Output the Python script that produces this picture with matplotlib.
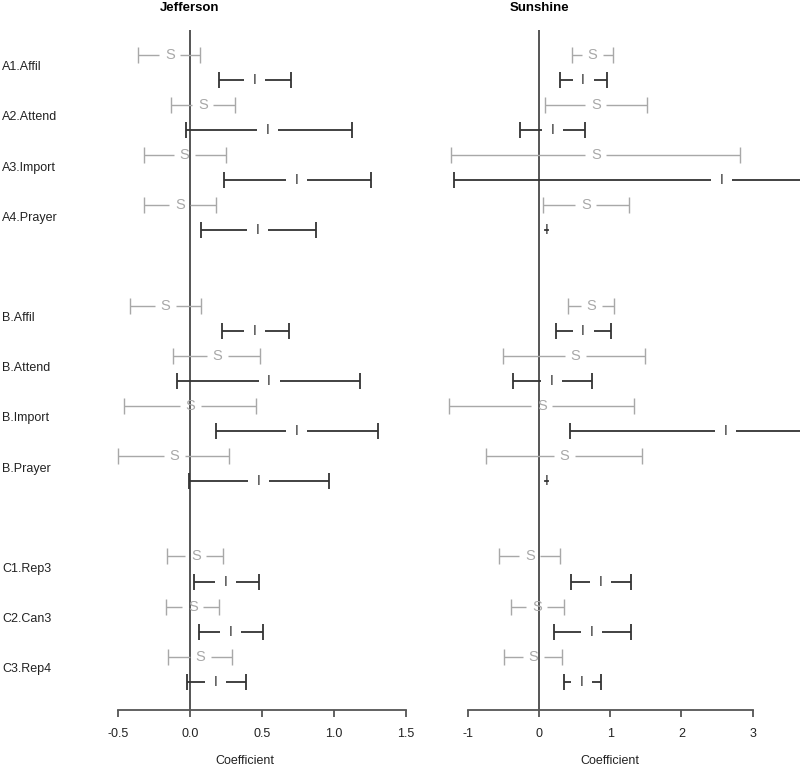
import matplotlib
matplotlib.use("Agg")
import matplotlib.pyplot as plt
from matplotlib.transforms import blended_transform_factory

plt.rcParams['font.family'] = ['Liberation Sans', 'DejaVu Sans']
plt.rcParams['axes.unicode_minus'] = False

# row labels and their vertical slots (blank slots between groups)
labels = ['A1.Affil', 'A2.Attend', 'A3.Import', 'A4.Prayer',
          'B.Affil', 'B.Attend', 'B.Import', 'B.Prayer',
          'C1.Rep3', 'C2.Can3', 'C3.Rep4']
rows = [0, 1, 2, 3, 5, 6, 7, 8, 10, 11, 12]

# Jefferson: "S" estimates (gray) and "I" estimates (black)
jef_s_est = [-0.14, 0.09, -0.04, -0.07, -0.17, 0.19, 0.00, -0.11, 0.04, 0.02, 0.07]
jef_s_lo = [-0.36, -0.13, -0.32, -0.32, -0.42, -0.12, -0.46, -0.50, -0.16, -0.17, -0.15]
jef_s_hi = [0.07, 0.31, 0.25, 0.18, 0.08, 0.49, 0.46, 0.27, 0.23, 0.20, 0.29]
jef_i_est = [0.45, 0.54, 0.74, 0.47, 0.45, 0.55, 0.74, 0.48, 0.25, 0.28, 0.18]
jef_i_lo = [0.20, -0.03, 0.24, 0.08, 0.22, -0.09, 0.18, -0.005, 0.03, 0.06, -0.02]
jef_i_hi = [0.70, 1.13, 1.26, 0.88, 0.69, 1.18, 1.31, 0.97, 0.48, 0.51, 0.39]

# Sunshine
sun_s_est = [0.75, 0.80, 0.80, 0.66, 0.74, 0.51, 0.04, 0.36, -0.13, -0.03, -0.08]
sun_s_lo = [0.46, 0.08, -1.24, 0.06, 0.41, -0.50, -1.27, -0.74, -0.56, -0.39, -0.49]
sun_s_hi = [1.04, 1.52, 2.82, 1.26, 1.05, 1.49, 1.33, 1.44, 0.30, 0.35, 0.33]
sun_i_est = [0.62, 0.19, 2.57, 0.11, 0.62, 0.18, 2.62, 0.11, 0.86, 0.74, 0.60]
sun_i_lo = [0.29, -0.27, -1.19, 0.09, 0.24, -0.37, 0.44, 0.09, 0.45, 0.21, 0.35]
sun_i_hi = [0.96, 0.65, 6.33, 0.13, 1.01, 0.74, 4.80, 0.13, 1.29, 1.29, 0.87]

W, H = 800, 769
GRAY = '#a8a8a8'
DARK = '#333333'

fig = plt.figure(figsize=(W / 100, H / 100), dpi=100)


def make_panel(x0, x1, xlim, ticks, ticklabels, title, label_x):
    ax = fig.add_axes([x0 / W, 1 - 710 / H, (x1 - x0) / W, 680 / H])
    ax.set_xlim(xlim)
    ax.set_ylim(12.81, -0.74)
    for s in ['top', 'right', 'left']:
        ax.spines[s].set_visible(False)
    ax.spines['bottom'].set_bounds(ticks[0], ticks[-1])
    ax.spines['bottom'].set_color('#555555')
    ax.spines['bottom'].set_linewidth(1.3)
    ax.set_yticks([])
    ax.set_xticks(ticks)
    ax.set_xticklabels(ticklabels)
    ax.tick_params(axis='x', direction='out', length=5, width=1.3,
                   color='#555555', labelsize=9, labelcolor='#222222', pad=8)
    ax.set_xlabel('Coefficient', fontsize=9, color='#222222', labelpad=11)
    ax.xaxis.label.set_x(label_x)
    ax.axvline(0, color='#555555', lw=1.4, zorder=1)
    tr = blended_transform_factory(ax.transData, fig.transFigure)
    ax.text(0, 1 - 8 / H, title, transform=tr, ha='center', va='center',
            fontsize=9.5, fontweight='bold')
    return ax


def draw_interval(ax, y, est, lo, hi, sym, color, lw, gap, fs):
    if est - gap > lo:
        ax.plot([lo, est - gap], [y, y], color=color, lw=lw, solid_capstyle='butt')
    if est + gap < hi:
        ax.plot([est + gap, hi], [y, y], color=color, lw=lw, solid_capstyle='butt')
    if hi - lo > gap:
        ax.plot([lo, hi], [y, y], ls='none', marker='|', ms=12, mew=lw, color=color)
    else:
        # tiny interval: just a short stroke through the symbol
        ax.plot([lo, hi], [y, y], color=color, lw=lw)
    ax.text(est, y, sym, color=color, ha='center', va='center', fontsize=fs)


def fill_panel(ax, s_est, s_lo, s_hi, i_est, i_lo, i_hi):
    x0, x1 = ax.get_xlim()
    w_px = ax.get_position().width * W
    gap = 10.5 * (x1 - x0) / w_px
    for k, r in enumerate(rows):
        draw_interval(ax, r - 0.25, s_est[k], s_lo[k], s_hi[k], 'S', GRAY, 1.0, gap, 10.5)
        draw_interval(ax, r + 0.25, i_est[k], i_lo[k], i_hi[k], 'I', DARK, 1.3, gap, 10)


ax1 = make_panel(105, 415, ((105 - 190) / 143.7, (415 - 190) / 143.7),
                 [-0.5, 0.0, 0.5, 1.0, 1.5], ['-0.5', '0.0', '0.5', '1.0', '1.5'],
                 'Jefferson', 0.452)
fill_panel(ax1, jef_s_est, jef_s_lo, jef_s_hi, jef_i_est, jef_i_lo, jef_i_hi)

ax2 = make_panel(440, 800, ((440 - 539) / 71.2, (800 - 539) / 71.2),
                 [-1, 0, 1, 2, 3], ['-1', '0', '1', '2', '3'], 'Sunshine', 0.472)
fill_panel(ax2, sun_s_est, sun_s_lo, sun_s_hi, sun_i_est, sun_i_lo, sun_i_hi)

# row labels on the far left
tr = blended_transform_factory(fig.transFigure, ax1.transData)
for lab, r in zip(labels, rows):
    ax1.text(2 / W, r, lab, transform=tr, ha='left', va='center',
             fontsize=9, color='#222222')

fig.savefig('out.png', dpi=100)
